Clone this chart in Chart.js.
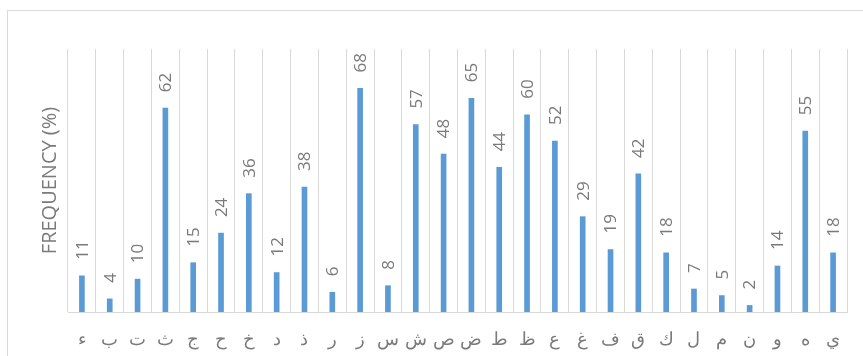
<!DOCTYPE html>
<html>
<head>
<meta charset="utf-8">
<script src="https://cdn.jsdelivr.net/npm/chart.js@4.4.0/dist/chart.umd.min.js"></script>
<style>
  body { margin: 0; background: #fff; overflow: hidden; }
  #frame { position: absolute; left: 7px; top: 10px; width: 900px; height: 400px; border: 1px solid #d9d9d9; }
  #wrap { position: absolute; left: 0; top: 0; width: 863px; height: 356px; }
</style>
</head>
<body>
<div id="frame"></div>
<div id="wrap"><canvas id="myChart" width="863" height="356"></canvas></div>
<script>
var letters = ["ء", "ب", "ت", "ث", "ج", "ح", "خ", "د", "ذ", "ر", "ز", "س", "ش", "ص",
  "ض", "ط", "ظ", "ع", "غ", "ف", "ق", "ك", "ل", "م", "ن", "و", "ه", "ي"];
var frequency = [11, 4, 10, 62, 15, 24, 36, 12, 38, 6, 68, 8, 57, 48,
  65, 44, 60, 52, 29, 19, 42, 18, 7, 5, 2, 14, 55, 18];
var yMax = 80;

var labelColor = "#7a7a7a";
var gridColor = "#d9d9d9";

// draws the value above each bar, rotated like the original
var barLabels = {
  id: "barLabels",
  afterDatasetsDraw: function(chart) {
    var ctx = chart.ctx;
    var meta = chart.getDatasetMeta(0);
    ctx.save();
    ctx.font = "17px 'Open Sans'";
    ctx.fillStyle = labelColor;
    ctx.textAlign = "left";
    ctx.textBaseline = "middle";
    meta.data.forEach(function(bar, i) {
      ctx.save();
      ctx.translate(bar.x + 1, bar.y - 16);
      ctx.rotate(-Math.PI / 2);
      ctx.fillText(String(frequency[i]), 0, 0);
      ctx.restore();
    });
    ctx.restore();
  }
};

new Chart("myChart", {
  type: "bar",
  data: {
    labels: letters,
    datasets: [{
      data: frequency,
      backgroundColor: "#5b9bd5",
      barThickness: 5
    }]
  },
  options: {
    responsive: false,
    animation: false,
    layout: { padding: { left: 0, right: 16, top: 49, bottom: 0 } },
    plugins: {
      legend: { display: false },
      tooltip: { enabled: false }
    },
    scales: {
      x: {
        grid: { color: gridColor, drawTicks: false, offset: true },
        border: { color: gridColor },
        ticks: {
          color: labelColor,
          font: { family: "'Open Sans'", size: 18 },
          padding: 17,
          maxRotation: 0,
          autoSkip: false
        },
        afterFit: function(scale) { scale.height = 44; }
      },
      y: {
        min: 0,
        max: yMax,
        grid: { display: false },
        border: { display: false },
        ticks: { display: false },
        title: {
          display: true,
          text: "FREQUENCY (%)",
          color: labelColor,
          font: { family: "'Open Sans'", size: 20 },
          padding: { top: 38, bottom: 0 }
        },
        afterFit: function(scale) { scale.width = 68; }
      }
    }
  },
  plugins: [barLabels]
});
</script>
</body>
</html>
